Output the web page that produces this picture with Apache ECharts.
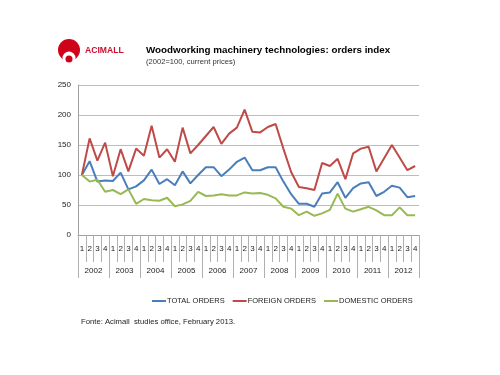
<!DOCTYPE html>
<html>
<head>
<meta charset="utf-8">
<script src="https://cdn.jsdelivr.net/npm/echarts@6/dist/echarts.min.js"></script>
<style>html,body{margin:0;padding:0;background:#fff}#c{width:500px;height:375px}</style>
</head>
<body>
<div id="c"></div>
<script>
var years = ['2002','2003','2004','2005','2006','2007','2008','2009','2010','2011','2012'];
var quarters = ['1','2','3','4'];
var yTicks = [0, 50, 100, 150, 200, 250];
var totalOrders = [100,123,89,91,90,104,76,81,91,109,85,93,83,106,86,100,113,113,98,109,122,129,108,108,113,113,89,68,52,52,47,69,71,88,62,78,86,88,65,72,82,79,63,65];
var foreignOrders = [100,161,124,154,98,143,106,144,132,182,129,143,122,179,136,150,165,180,152,169,179,209,172,171,180,185,144,105,80,78,75,120,115,127,93,136,144,147,106,128,150,129,108,115];
var domesticOrders = [100,89,92,72,75,68,76,52,60,58,57,62,48,51,57,72,65,66,68,66,66,71,69,70,67,61,47,44,33,39,32,36,42,69,44,39,43,47,41,33,33,46,33,33];

var categories = [];
years.forEach(function (y) { quarters.forEach(function (q) { categories.push(y + '-' + q); }); });

var FONT = '"Liberation Sans", Arial, sans-serif';
var chart = echarts.init(document.getElementById('c'), null, {renderer: 'canvas'});
chart.setOption({
  animation: false,
  backgroundColor: '#ffffff',
  textStyle: {fontFamily: FONT},
  grid: {left: 78, top: 85, width: 341, height: 150, containLabel: false},
  legend: {
    left: 152, top: 297, padding: 0,
    itemWidth: 14, itemHeight: 2, itemGap: 8,
    icon: 'rect',
    textStyle: {fontFamily: FONT, fontSize: 7.5, color: '#222', padding: [0, 0, 0, -4]},
    data: ['TOTAL ORDERS', 'FOREIGN ORDERS', 'DOMESTIC ORDERS']
  },
  xAxis: [{
    type: 'category', data: categories, position: 'bottom', boundaryGap: true,
    axisLine: {show: true, lineStyle: {color: '#a0a0a0', width: 1}},
    axisTick: {show: true, interval: 0, length: 27, lineStyle: {color: '#b0b0b0'}},
    axisLabel: {interval: 0, margin: 10, fontSize: 8, color: '#222', fontFamily: FONT,
      formatter: function (v) { return v.split('-')[1]; }},
    splitLine: {show: false}
  }, {
    type: 'category', data: years, position: 'bottom', boundaryGap: true,
    axisLine: {show: false},
    axisTick: {show: true, interval: 0, length: 43, lineStyle: {color: '#b0b0b0'}},
    axisLabel: {interval: 0, margin: 32, fontSize: 8, color: '#222', fontFamily: FONT},
    splitLine: {show: false}
  }],
  yAxis: {
    type: 'value', min: yTicks[0], max: yTicks[yTicks.length - 1], interval: 50,
    axisLine: {show: true, lineStyle: {color: '#a0a0a0'}},
    axisTick: {show: false},
    axisLabel: {fontSize: 8, color: '#222', margin: 7, fontFamily: FONT},
    splitLine: {show: true, lineStyle: {color: '#bdbdbd', width: 1}}
  },
  series: [
    {name: 'TOTAL ORDERS', type: 'line', data: totalOrders, showSymbol: false, symbol: 'none',
     lineStyle: {color: '#4a7ebb', width: 2}, itemStyle: {color: '#4a7ebb'}},
    {name: 'FOREIGN ORDERS', type: 'line', data: foreignOrders, showSymbol: false, symbol: 'none',
     lineStyle: {color: '#be4b48', width: 2}, itemStyle: {color: '#be4b48'}},
    {name: 'DOMESTIC ORDERS', type: 'line', data: domesticOrders, showSymbol: false, symbol: 'none',
     lineStyle: {color: '#98b954', width: 2}, itemStyle: {color: '#98b954'}}
  ],
  graphic: [
    {type: 'circle', shape: {cx: 69, cy: 50, r: 11}, style: {fill: '#d0021b'}},
    {type: 'circle', shape: {cx: 69, cy: 58, r: 6.5}, style: {fill: '#ffffff'}},
    {type: 'circle', shape: {cx: 69, cy: 59, r: 3.5}, style: {fill: '#d0021b'}},
    {type: 'text', left: 85, top: 46.5, style: {text: 'ACIMALL', fill: '#c8102e', font: 'bold 8.6px ' + FONT}},
    {type: 'text', left: 146, top: 45.5, style: {text: 'Woodworking machinery technologies: orders index', fill: '#000', font: 'bold 9.8px ' + FONT}},
    {type: 'text', left: 146, top: 58, style: {text: '(2002=100, current prices)', fill: '#333', font: '7.6px ' + FONT}},
    {type: 'text', left: 81, top: 318, style: {text: 'Fonte: Acimall  studies office, February 2013.', fill: '#222', font: '7.7px ' + FONT}}
  ]
});
</script>
</body>
</html>
